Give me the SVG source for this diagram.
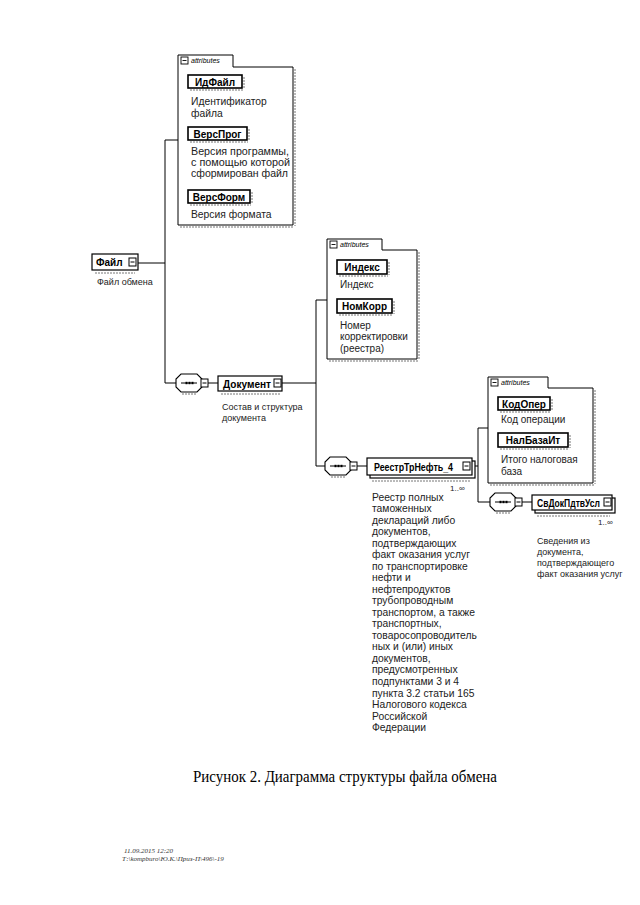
<svg xmlns="http://www.w3.org/2000/svg" width="640" height="905" viewBox="0 0 640 905">
<style>
.bg{fill:#fff}
.conn{stroke:#000;stroke-width:1;fill:none}
.box{fill:#fff;stroke:#000;stroke-width:1.2}
.abox{fill:#fff;stroke:#000;stroke-width:1.6}
.grp{fill:#fff;stroke:#000;stroke-width:1}
.sh{stroke:#777;stroke-width:1;stroke-dasharray:2 1;fill:none}
.lbl{font-family:"Liberation Sans",Arial,sans-serif;font-size:10px;font-weight:bold;fill:#000}
.ann{font-family:"Liberation Sans",Arial,sans-serif;font-size:9px;fill:#222}
.a1{font-size:10.3px}
.a2{font-size:10px}
.big{font-size:10.3px}
.tab{font-family:"Liberation Sans",Arial,sans-serif;font-size:7px;font-style:italic;fill:#000}
.cap{font-family:"Liberation Serif","Times New Roman",serif;font-size:16px;fill:#000}
.foot{font-family:"Liberation Serif","Times New Roman",serif;font-size:7px;font-style:italic;fill:#333}
</style>
<defs>
<g id="exp">
<rect x="0" y="0" width="7" height="8" fill="#fff" stroke="#000" stroke-width="1"/>
<line x1="1.5" y1="4" x2="5.5" y2="4" stroke="#000" stroke-width="1"/>
</g>
<g id="seq">
<path d="M5,-9 H21 L26,-4 V4 L21,9 H5 L0,4 V-4 Z" fill="#fff" stroke="#000" stroke-width="1.1"/>
<line x1="5" y1="0" x2="21" y2="0" stroke="#000" stroke-width="1"/>
<rect x="9.5" y="-1.2" width="2" height="2.4" fill="#000"/>
<rect x="12.5" y="-1.2" width="2" height="2.4" fill="#000"/>
<rect x="15.5" y="-1.2" width="2" height="2.4" fill="#000"/>
<path d="M6,11 H20" class="sh"/>
<rect x="25" y="-4" width="7" height="8" fill="#fff" stroke="#000" stroke-width="1"/>
<line x1="26.5" y1="0" x2="30.5" y2="0" stroke="#000" stroke-width="1"/>
</g>
<g id="tabminus">
<rect x="0" y="0" width="7" height="7" fill="#fff" stroke="#000" stroke-width="0.9"/>
<line x1="1.5" y1="3.5" x2="5.5" y2="3.5" stroke="#000" stroke-width="0.9"/>
</g>
</defs>
<rect class="bg" x="0" y="0" width="640" height="905"/>

<g id="connectors">
<path class="conn" d="M138,263 H165"/>
<path class="conn" d="M165,140 V383"/>
<path class="conn" d="M165,140 H178"/>
<path class="conn" d="M165,383 H176"/>
<path class="conn" d="M208,383 H218"/>
<path class="conn" d="M282,383 H316"/>
<path class="conn" d="M316,300 V466"/>
<path class="conn" d="M316,300 H327"/>
<path class="conn" d="M316,466 H325"/>
<path class="conn" d="M357,466 H367"/>
<path class="conn" d="M472,466 H478"/>
<path class="conn" d="M478,428 V502"/>
<path class="conn" d="M478,428 H488"/>
<path class="conn" d="M478,502 H490"/>
<path class="conn" d="M522,502 H532"/>
</g>

<g id="attrs1">
<path class="grp" d="M178,67 V55 H233 V67 H293 V225 H178 Z"/>
<path class="sh" d="M180,227 H294 M295,69 V226"/>
<use href="#tabminus" x="181" y="57"/>
<text class="tab" x="191" y="63">attributes</text>
</g>
<g id="ИдФайл">
<rect class="abox" x="188" y="75" width="54" height="13"/>
<path class="sh" d="M244,77 V89 M190,90 H243"/>
<text class="lbl" x="215" y="85.5" text-anchor="middle">ИдФайл</text>
<text class="ann a1" x="191" y="105">Идентификатор</text>
<text class="ann a1" x="191" y="117">файла</text>
</g>
<g id="ВерсПрог">
<rect class="abox" x="188" y="127" width="59" height="13"/>
<path class="sh" d="M249,129 V141 M190,142 H248"/>
<text class="lbl" x="217.5" y="137.5" text-anchor="middle">ВерсПрог</text>
<text class="ann a1" x="191" y="155" textLength="98" lengthAdjust="spacingAndGlyphs">Версия программы,</text>
<text class="ann a1" x="191" y="166" textLength="99" lengthAdjust="spacingAndGlyphs">с помощью которой</text>
<text class="ann a1" x="191" y="177" textLength="97" lengthAdjust="spacingAndGlyphs">сформирован файл</text>
</g>
<g id="ВерсФорм">
<rect class="abox" x="188" y="190" width="62" height="13"/>
<path class="sh" d="M252,192 V204 M190,205 H251"/>
<text class="lbl" x="219" y="200.5" text-anchor="middle">ВерсФорм</text>
<text class="ann a1" x="191" y="218">Версия формата</text>
</g>

<g id="Файл">
<rect class="box" x="92" y="254" width="46" height="16"/>
<path class="sh" d="M95,273 H135"/>
<use href="#exp" x="129" y="258"/>
<text class="lbl" x="96" y="266">Файл</text>
<text class="ann" x="97" y="285">Файл обмена</text>
</g>

<g id="seq1"><use href="#seq" x="176" y="383"/></g>

<g id="Документ">
<rect class="box" x="218" y="376" width="64" height="15"/>
<path class="sh" d="M221,394 H280"/>
<use href="#exp" x="274" y="379"/>
<text class="lbl" x="223" y="387.5" textLength="48" lengthAdjust="spacingAndGlyphs">Документ</text>
<text class="ann" x="222" y="410">Состав и структура</text>
<text class="ann" x="222" y="421">документа</text>
</g>

<g id="attrs2">
<path class="grp" d="M327,250 V239 H382 V250 H417 V359 H327 Z"/>
<path class="sh" d="M329,361 H418 M419,252 V360"/>
<use href="#tabminus" x="330" y="241"/>
<text class="tab" x="340" y="247">attributes</text>
</g>
<g id="Индекс">
<rect class="abox" x="337" y="260" width="50" height="14"/>
<path class="sh" d="M389,262 V275 M339,276 H388"/>
<text class="lbl" x="362" y="271" text-anchor="middle">Индекс</text>
<text class="ann a2" x="340" y="288">Индекс</text>
</g>
<g id="НомКорр">
<rect class="abox" x="337" y="299" width="55" height="14"/>
<path class="sh" d="M394,301 V314 M339,315 H393"/>
<text class="lbl" x="364.5" y="310" text-anchor="middle">НомКорр</text>
<text class="ann a2" x="340" y="329">Номер</text>
<text class="ann a2" x="340" y="340">корректировки</text>
<text class="ann a2" x="340" y="352">(реестра)</text>
</g>

<g id="seq2"><use href="#seq" x="325" y="466"/></g>

<g id="РеестрТрНефть_4">
<rect class="box" x="370" y="461" width="105" height="17"/>
<rect class="box" x="367" y="458" width="105" height="17"/>
<path class="sh" d="M372,481 H470"/>
<use href="#exp" x="463" y="462"/>
<text class="lbl" x="374" y="470.5" textLength="79" lengthAdjust="spacingAndGlyphs">РеестрТрНефть_4</text>
<text class="ann" x="450" y="491" style="font-size:8px">1..∞</text>
<text class="ann big" x="372" y="501">Реестр полных</text>
<text class="ann big" x="372" y="512">таможенных</text>
<text class="ann big" x="372" y="524">деклараций либо</text>
<text class="ann big" x="372" y="535">документов,</text>
<text class="ann big" x="372" y="547">подтверждающих</text>
<text class="ann big" x="372" y="558">факт оказания услуг</text>
<text class="ann big" x="372" y="570">по транспортировке</text>
<text class="ann big" x="372" y="581">нефти и</text>
<text class="ann big" x="372" y="593">нефтепродуктов</text>
<text class="ann big" x="372" y="604">трубопроводным</text>
<text class="ann big" x="372" y="616">транспортом, а также</text>
<text class="ann big" x="372" y="627">транспортных,</text>
<text class="ann big" x="372" y="639">товаросопроводитель</text>
<text class="ann big" x="372" y="650">ных и (или) иных</text>
<text class="ann big" x="372" y="662">документов,</text>
<text class="ann big" x="372" y="673">предусмотренных</text>
<text class="ann big" x="372" y="685">подпунктами 3 и 4</text>
<text class="ann big" x="372" y="697">пункта 3.2 статьи 165</text>
<text class="ann big" x="372" y="708">Налогового кодекса</text>
<text class="ann big" x="372" y="720">Российской</text>
<text class="ann big" x="372" y="731">Федерации</text>
</g>

<g id="attrs3">
<path class="grp" d="M488,388 V377 H548 V388 H593 V483 H488 Z"/>
<path class="sh" d="M490,485 H594 M595,390 V484"/>
<use href="#tabminus" x="491" y="379"/>
<text class="tab" x="501" y="385">attributes</text>
</g>
<g id="КодОпер">
<rect class="abox" x="498" y="397" width="52" height="13"/>
<path class="sh" d="M552,399 V411 M500,412 H551"/>
<text class="lbl" x="524" y="407.5" text-anchor="middle">КодОпер</text>
<text class="ann a2" x="501" y="423">Код операции</text>
</g>
<g id="НалБазаИт">
<rect class="abox" x="498" y="433" width="70" height="14"/>
<path class="sh" d="M570,435 V448 M500,449 H569"/>
<text class="lbl" x="533" y="444" text-anchor="middle">НалБазаИт</text>
<text class="ann a2" x="501" y="463">Итого налоговая</text>
<text class="ann a2" x="501" y="475">база</text>
</g>

<g id="seq3"><use href="#seq" x="490" y="502"/></g>

<g id="СвДокПдтвУсл">
<rect class="box" x="535" y="498" width="80" height="15"/>
<rect class="box" x="532" y="495" width="80" height="15"/>
<path class="sh" d="M537,516 H610"/>
<use href="#exp" x="604" y="498"/>
<text class="lbl" x="537" y="506.5" textLength="63" lengthAdjust="spacingAndGlyphs">СвДокПдтвУсл</text>
<text class="ann" x="598" y="525" style="font-size:8px">1..∞</text>
<text class="ann" x="537" y="544">Сведения из</text>
<text class="ann" x="537" y="555">документа,</text>
<text class="ann" x="537" y="566">подтверждающего</text>
<text class="ann" x="537" y="577">факт оказания услуг</text>
</g>

<text class="cap" x="193" y="782" textLength="304" lengthAdjust="spacingAndGlyphs">Рисунок 2. Диаграмма структуры файла обмена</text>
<text class="foot" x="124" y="853">11.09.2015 12:20</text>
<text class="foot" x="122" y="861">Т:\kompburo\Ю.К.\Приз-П\496\-19</text>
</svg>
